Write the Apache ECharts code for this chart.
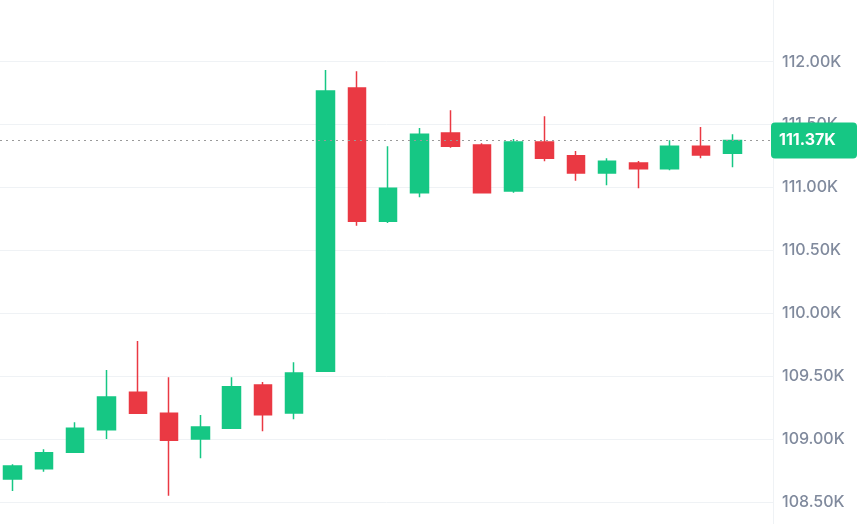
<!DOCTYPE html>
<html>
<head>
<meta charset="utf-8">
<script src="https://cdn.jsdelivr.net/npm/echarts@6/dist/echarts.min.js"></script>
<style>
  html, body { margin: 0; padding: 0; background: #ffffff; }
  #chart { width: 866px; height: 524px; }
</style>
</head>
<body>
<div id="chart"></div>
<script>
// Candle index (time slots, evenly spaced)
const candleIndex = [0,1,2,3,4,5,6,7,8,9,10,11,12,13,14,15,16,17,18,19,20,21,22,23];
const opens  = [108683,108765,108895,109075,109372,109205,109001,109086,109430,109207,109539,111791,110731,110959,111433,111338,110972,111362,111253,111115,111195,111149,111328,111272];
const closes = [108786,108892,109086,109335,109205,108990,109096,109417,109194,109525,111767,110731,110994,111423,111328,110959,111362,111232,111115,111208,111149,111328,111258,111374];
const lows   = [108587,108741,108895,109001,109205,108550,108847,109086,109062,109157,109539,110696,110718,110922,111316,110959,110959,111208,111054,111017,110994,111137,111232,111161];
const highs  = [108800,108919,109134,109549,109780,109491,109192,109491,109454,109610,111934,111924,111328,111473,111614,111351,111386,111566,111290,111232,111211,111375,111481,111423];
const currentPrice = 111374;
const yTickStep = 500;

const UP = '#16c784';
const DOWN = '#ea3943';

const candleData = candleIndex.map((x, i) => [x, opens[i], closes[i], lows[i], highs[i]]);
const fmtK = v => (Math.floor(v / 10) / 100).toFixed(2) + 'K';

const chart = echarts.init(document.getElementById('chart'), null, { renderer: 'canvas' });
chart.setOption({
  animation: false,
  backgroundColor: '#ffffff',
  textStyle: { fontFamily: 'Inter, "Noto Sans", sans-serif' },
  grid: { left: 0, right: 93, top: -1.2, height: 566.1, containLabel: false, outerBoundsMode: 'none' },
  xAxis: {
    type: 'value',
    min: -0.403,
    max: 24.30,
    show: false,
    axisLine: { show: false, onZero: false },
    splitLine: { show: false }
  },
  yAxis: {
    type: 'value',
    position: 'right',
    min: 108000,
    max: 112500,
    interval: yTickStep,
    scale: true,
    axisLine: { show: true, onZero: false, lineStyle: { color: '#eff2f5', width: 1 } },
    axisTick: { show: false },
    splitLine: { show: true, lineStyle: { color: '#eff2f5', width: 1 } },
    axisLabel: {
      showMaxLabel: false,
      showMinLabel: false,
      margin: 9,
      color: '#808a9d',
      fontSize: 16,
      fontWeight: 500,
      fontFamily: 'Inter, "Noto Sans", sans-serif',
      formatter: v => fmtK(v)
    }
  },
  series: [{
    type: 'candlestick',
    data: candleData,
    encode: { x: 0, y: [1, 2, 3, 4] },
    barWidth: 18,
    silent: true,
    itemStyle: {
      color: UP, color0: DOWN,
      borderColor: UP, borderColor0: DOWN,
      borderWidth: 1.5
    },
    markLine: {
      silent: true,
      symbol: ['none', 'none'],
      animation: false,
      lineStyle: { color: '#9a9a9a', type: [2, 4], width: 1 },
      label: {
        show: true,
        position: 'end',
        distance: -2,
        formatter: () => fmtK(currentPrice),
        backgroundColor: UP,
        color: '#ffffff',
        fontSize: 16,
        fontWeight: 'bold',
        fontFamily: 'Inter, "Noto Sans", sans-serif',
        padding: [10, 8],
        width: 70,
        borderRadius: 4
      },
      data: [{ yAxis: currentPrice }]
    }
  }]
});
</script>
</body>
</html>
